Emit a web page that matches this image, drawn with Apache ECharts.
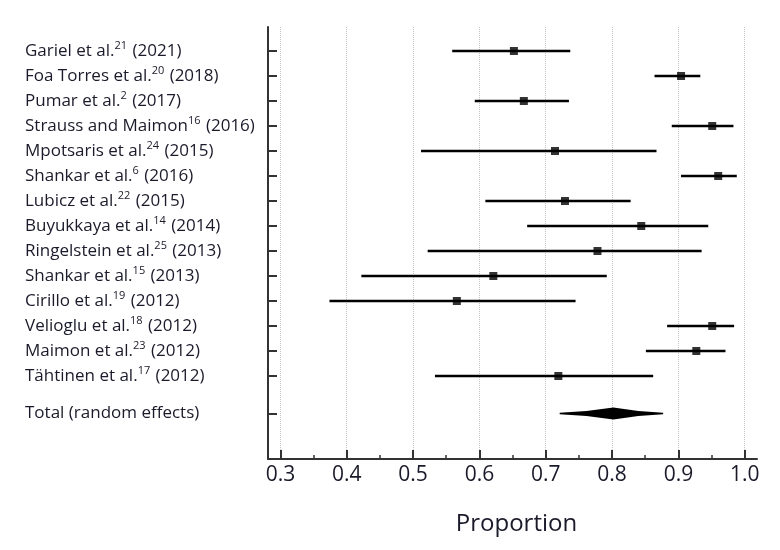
<!DOCTYPE html>
<html>
<head>
<meta charset="utf-8">
<script src="https://cdn.jsdelivr.net/npm/echarts@6/dist/echarts.min.js"></script>
<style>
  html, body { margin: 0; padding: 0; background: #fff; }
  #chart { width: 780px; height: 550px; }
</style>
</head>
<body>
<div id="chart"></div>
<script>
// ---- data ----
const studyNames = ['Gariel et al.', 'Foa Torres et al.', 'Pumar et al.', 'Strauss and Maimon', 'Mpotsaris et al.',
  'Shankar et al.', 'Lubicz et al.', 'Buyukkaya et al.', 'Ringelstein et al.', 'Shankar et al.',
  'Cirillo et al.', 'Velioglu et al.', 'Maimon et al.', 'Tähtinen et al.'];
const studyRefs = ['21', '20', '2', '16', '24', '6', '22', '14', '25', '15', '19', '18', '23', '17'];
const studyYears = ['2021', '2018', '2017', '2016', '2015', '2016', '2015', '2014', '2013', '2013', '2012', '2012', '2012', '2012'];
const estimate = [0.652, 0.904, 0.667, 0.951, 0.714, 0.960, 0.729, 0.844, 0.778, 0.621, 0.566, 0.951, 0.927, 0.719];
const ciLow    = [0.559, 0.864, 0.593, 0.890, 0.512, 0.904, 0.609, 0.672, 0.522, 0.422, 0.374, 0.883, 0.851, 0.533];
const ciHigh   = [0.737, 0.933, 0.735, 0.983, 0.867, 0.988, 0.828, 0.945, 0.935, 0.792, 0.745, 0.984, 0.971, 0.862];
const totalLabel = 'Total (random effects)';
const totalLow = 0.721, totalEst = 0.802, totalHigh = 0.877;
const rowPos = [1, 2, 3, 4, 5, 6, 7, 8, 9, 10, 11, 12, 13, 14];
const totalPos = 15.5;
const xMajorTicks = [0.3, 0.4, 0.5, 0.6, 0.7, 0.8, 0.9, 1.0];
const xMinorTicks = [0.35, 0.45, 0.55, 0.65, 0.75, 0.85, 0.95];
const xTickLabels = ['0.3', '0.4', '0.5', '0.6', '0.7', '0.8', '0.9', '1.0'];
const xAxisTitle = 'Proportion';

const chart = echarts.init(document.getElementById('chart'), null, { renderer: 'canvas' });
const FONT = '"Open Sans", "Noto Sans", sans-serif';
const AX = '#333';
const TXT = '#1a1a2a';

const yLabelFormatter = function (v) {
  if (Math.abs(v - totalPos) < 1e-6) return '{n|' + totalLabel + '}';
  const i = rowPos.findIndex(p => Math.abs(p - v) < 1e-6);
  if (i < 0) return '';
  return '{n|' + studyNames[i] + '}{s|' + studyRefs[i] + '}{n| (' + studyYears[i] + ')}';
};

const ciData = rowPos.map((p, i) => [ciLow[i], ciHigh[i], p]);
const estData = rowPos.map((p, i) => [estimate[i], p]);

const option = {
  animation: false,
  backgroundColor: '#fff',
  grid: { left: 268, right: 23, top: 27, bottom: 91, containLabel: false },
  xAxis: [{
    type: 'value', min: 0.2813, max: 1.0185,
    axisLine: { show: true, lineStyle: { color: AX, width: 2 } },
    axisTick: { show: true, inside: true, length: 9, customValues: xMajorTicks, lineStyle: { color: AX, width: 2 } },
    axisLabel: {
      show: true, customValues: xMajorTicks, margin: 6,
      formatter: v => { const i = xMajorTicks.findIndex(t => Math.abs(t - v) < 1e-6); return i < 0 ? '' : xTickLabels[i]; },
      fontFamily: FONT, fontSize: 21, color: TXT
    },
    splitLine: { show: true, lineStyle: { color: '#c4c4c4', type: 'dotted', width: 1 } },
    name: xAxisTitle, nameLocation: 'middle', nameGap: 53,
    nameTextStyle: { fontFamily: FONT, fontSize: 24, color: TXT, padding: [0, 0, 0, 8] }
  }, {
    type: 'value', min: 0.2813, max: 1.0185, position: 'bottom',
    axisLine: { show: false },
    axisTick: { show: true, inside: true, length: 4, customValues: xMinorTicks, lineStyle: { color: AX, width: 1.5 } },
    axisLabel: { show: false },
    splitLine: { show: false }
  }],
  yAxis: {
    type: 'value', inverse: true, min: 0.04, max: 17.32,
    axisLine: { show: true, lineStyle: { color: AX, width: 2 } },
    axisTick: { show: true, inside: true, length: 9, customValues: rowPos.concat([totalPos]), lineStyle: { color: AX, width: 2 } },
    axisLabel: {
      show: true, customValues: rowPos.concat([totalPos]), align: 'left', margin: 243,
      formatter: yLabelFormatter,
      rich: {
        n: { fontFamily: FONT, fontSize: 17, color: TXT, lineHeight: 22 },
        s: { fontFamily: FONT, fontSize: 11, color: TXT, verticalAlign: 'top', lineHeight: 22, padding: [0, 1, 0, 0] }
      }
    },
    splitLine: { show: false }
  },
  series: [{
    type: 'custom',
    name: 'ci',
    xAxisIndex: 0,
    renderItem: function (params, api) {
      const a = api.coord([api.value(0), api.value(2)]);
      const b = api.coord([api.value(1), api.value(2)]);
      return { type: 'line', shape: { x1: a[0], y1: a[1], x2: b[0], y2: b[1] }, style: { stroke: '#000', lineWidth: 2.5 } };
    },
    encode: { x: [0, 1], y: 2 },
    data: ciData,
    z: 3
  }, {
    type: 'scatter',
    name: 'est',
    xAxisIndex: 0,
    symbol: 'rect', symbolSize: 8,
    itemStyle: { color: '#000' },
    data: estData,
    z: 4
  }, {
    type: 'custom',
    name: 'total',
    xAxisIndex: 0,
    renderItem: function (params, api) {
      const l = api.coord([api.value(0), api.value(3)]);
      const m = api.coord([api.value(1), api.value(3)]);
      const r = api.coord([api.value(2), api.value(3)]);
      const y = m[1];
      return {
        type: 'polygon',
        shape: { points: [
          [l[0], y - 0.8], [(l[0] + m[0]) / 2, y - 2.5], [m[0], y - 6],
          [(m[0] + r[0]) / 2, y - 2.5], [r[0], y - 0.8], [r[0], y + 0.8],
          [(m[0] + r[0]) / 2, y + 2.5], [m[0], y + 6], [(l[0] + m[0]) / 2, y + 2.5], [l[0], y + 0.8]
        ] },
        style: { fill: '#000' }
      };
    },
    encode: { x: [0, 1, 2], y: 3 },
    data: [[totalLow, totalEst, totalHigh, totalPos]],
    z: 4
  }]
};
chart.setOption(option);
</script>
</body>
</html>
